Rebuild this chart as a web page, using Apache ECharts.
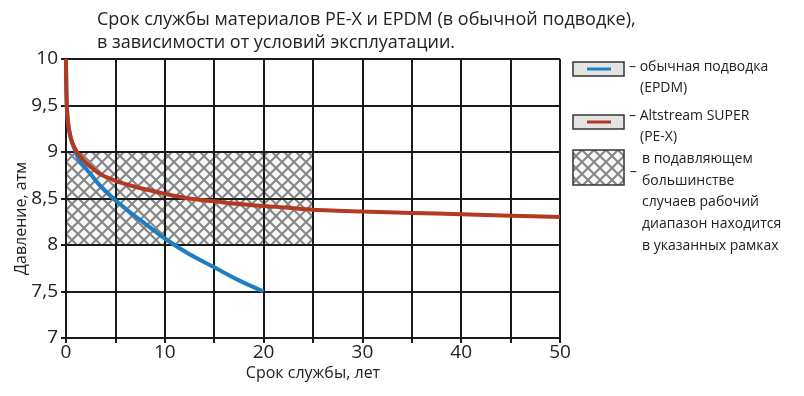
<!DOCTYPE html>
<html><head><meta charset="utf-8">
<script src="https://cdn.jsdelivr.net/npm/echarts@6/dist/echarts.min.js"></script>
<style>html,body{margin:0;padding:0;background:#fff}#c{width:804px;height:396px}</style>
</head><body><div id="c"></div>
<script>
const titleLines = ['Срок службы материалов PE-X и EPDM (в обычной подводке),', 'в зависимости от условий эксплуатации.'];
const xName = 'Срок службы, лет';
const yName = 'Давление, атм';
const epdmX = [0, 0.03, 0.08, 0.15, 0.25, 0.4, 0.6, 0.9, 1.3, 1.8, 2.5, 3.5, 5, 6.5, 8, 10, 12.5, 15, 17.5, 20];
const epdmY = [10, 9.7, 9.5, 9.38, 9.28, 9.19, 9.11, 9.02, 8.92, 8.85, 8.76, 8.63, 8.48, 8.35, 8.23, 8.07, 7.9, 7.76, 7.62, 7.5];
const pexX = [0, 0.03, 0.08, 0.15, 0.25, 0.4, 0.6, 0.9, 1.3, 1.8, 2.5, 3.5, 5, 6.5, 8, 10, 12.5, 15, 17.5, 20, 22.5, 25, 30, 35, 40, 45, 50];
const pexY = [10, 9.7, 9.5, 9.38, 9.28, 9.19, 9.11, 9.04, 8.97, 8.91, 8.84, 8.76, 8.69, 8.64, 8.6, 8.55, 8.5, 8.47, 8.44, 8.42, 8.4, 8.38, 8.36, 8.345, 8.33, 8.315, 8.3];
const zoneX = [0, 25];
const zoneY = [8, 9];
const legendTexts = [
  ['– обычная подводка', '(EPDM)'],
  ['– Altstream SUPER', '(PE-X)'],
  ['в подавляющем', 'большинстве', 'случаев рабочий', 'диапазон находится', 'в указанных рамках']
];
const colBlue = '#1f7ec2', colRed = '#b23a20';
const FONT = '"Open Sans", "Noto Sans", sans-serif';

function makeHatch(){
  const c = document.createElement('canvas');
  const s = 12; c.width = s; c.height = s;
  const g = c.getContext('2d');
  g.fillStyle = '#f6f6f6'; g.fillRect(0,0,s,s);
  g.strokeStyle = '#858585'; g.lineWidth = 2;
  g.beginPath();
  g.moveTo(-2,-2); g.lineTo(s+2,s+2);
  g.moveTo(s+2,-2); g.lineTo(-2,s+2);
  g.stroke();
  return c;
}
const hatch = makeHatch();

const chart = echarts.init(document.getElementById('c'));
const legendGraphics = [];
const bx = 573, bw = 51;
function box(y, h, fill){
  legendGraphics.push({type:'rect', shape:{x:bx, y:y, width:bw, height:h}, style:{fill:fill, stroke:'#333', lineWidth:1.5}});
}
box(62, 14, '#e4e4e4');
legendGraphics.push({type:'line', shape:{x1:587,y1:69,x2:611,y2:69}, style:{stroke:colBlue, lineWidth:3}});
box(115, 14, '#e4e4e4');
legendGraphics.push({type:'line', shape:{x1:587,y1:122,x2:611,y2:122}, style:{stroke:colRed, lineWidth:3}});
box(150, 35, {image: hatch, repeat:'repeat'});
function txt(x, y, t){
  legendGraphics.push({type:'text', x:x, y:y, style:{text:t, fill:'#222', font:'14px '+FONT, textVerticalAlign:'middle'}});
}
txt(629, 67, legendTexts[0][0]); txt(640, 88, legendTexts[0][1]);
txt(629, 116, legendTexts[1][0]); txt(640, 137, legendTexts[1][1]);
txt(630, 172, '–');
legendTexts[2].forEach((t,i)=>txt(642, 159 + i*21.7, t));
titleLines.forEach((t,i)=>legendGraphics.push({type:'text', x:97, y:20 + i*23, style:{text:t, fill:'#222', font:'18px '+FONT, textVerticalAlign:'middle'}}));

const axisCommon = {
  axisLine:{show:true, lineStyle:{color:'#1a1a1a', width:2}},
  axisTick:{show:true, length:5, lineStyle:{color:'#1a1a1a', width:2}},
  splitLine:{show:true, lineStyle:{color:'#1a1a1a', width:2}},
  nameMoveOverlap:false,
  z: 1
};
chart.setOption({
  animation:false,
  grid:{left:66, right:244, top:59, bottom:58, show:false, containLabel:false, outerBoundsMode:'none'},
  xAxis:Object.assign({type:'value', min:0, max:50, interval:5,
    name:xName, nameLocation:'middle', nameGap:27,
    nameTextStyle:{fontSize:16, color:'#222', fontFamily:FONT},
    axisLabel:{fontSize:19, color:'#222', fontFamily:FONT, margin:5, formatter:v=> v%10===0 ? String(v) : ''}
  }, axisCommon),
  yAxis:Object.assign({type:'value', min:7, max:10, interval:0.5,
    name:yName, nameLocation:'middle', nameGap:37, nameRotate:90,
    nameTextStyle:{fontSize:16, color:'#222', fontFamily:FONT, padding:[0, 40, 0, 0]},
    axisLabel:{fontSize:19, color:'#222', fontFamily:FONT, margin:8, formatter:v=> String(v).replace('.', ',')}
  }, axisCommon),
  graphic: legendGraphics,
  series:[
    {type:'custom', z:0, silent:true, data:[[zoneX[0], zoneY[0], zoneX[1], zoneY[1]]],
      renderItem:(params, api)=>{
        const p1 = api.coord([api.value(0), api.value(3)]);
        const p2 = api.coord([api.value(2), api.value(1)]);
        return {type:'rect', shape:{x:p1[0], y:p1[1], width:p2[0]-p1[0], height:p2[1]-p1[1]},
          style:{fill:{image:hatch, repeat:'repeat'}}};
      }},
    {type:'line', z:3, name:'EPDM', data:epdmX.map((x,i)=>[x, epdmY[i]]), smooth:0.3, showSymbol:false,
      lineStyle:{color:colBlue, width:4}},
    {type:'line', z:4, name:'PE-X', data:pexX.map((x,i)=>[x, pexY[i]]), smooth:0.3, showSymbol:false,
      lineStyle:{color:colRed, width:4}}
  ]
});
</script></body></html>
